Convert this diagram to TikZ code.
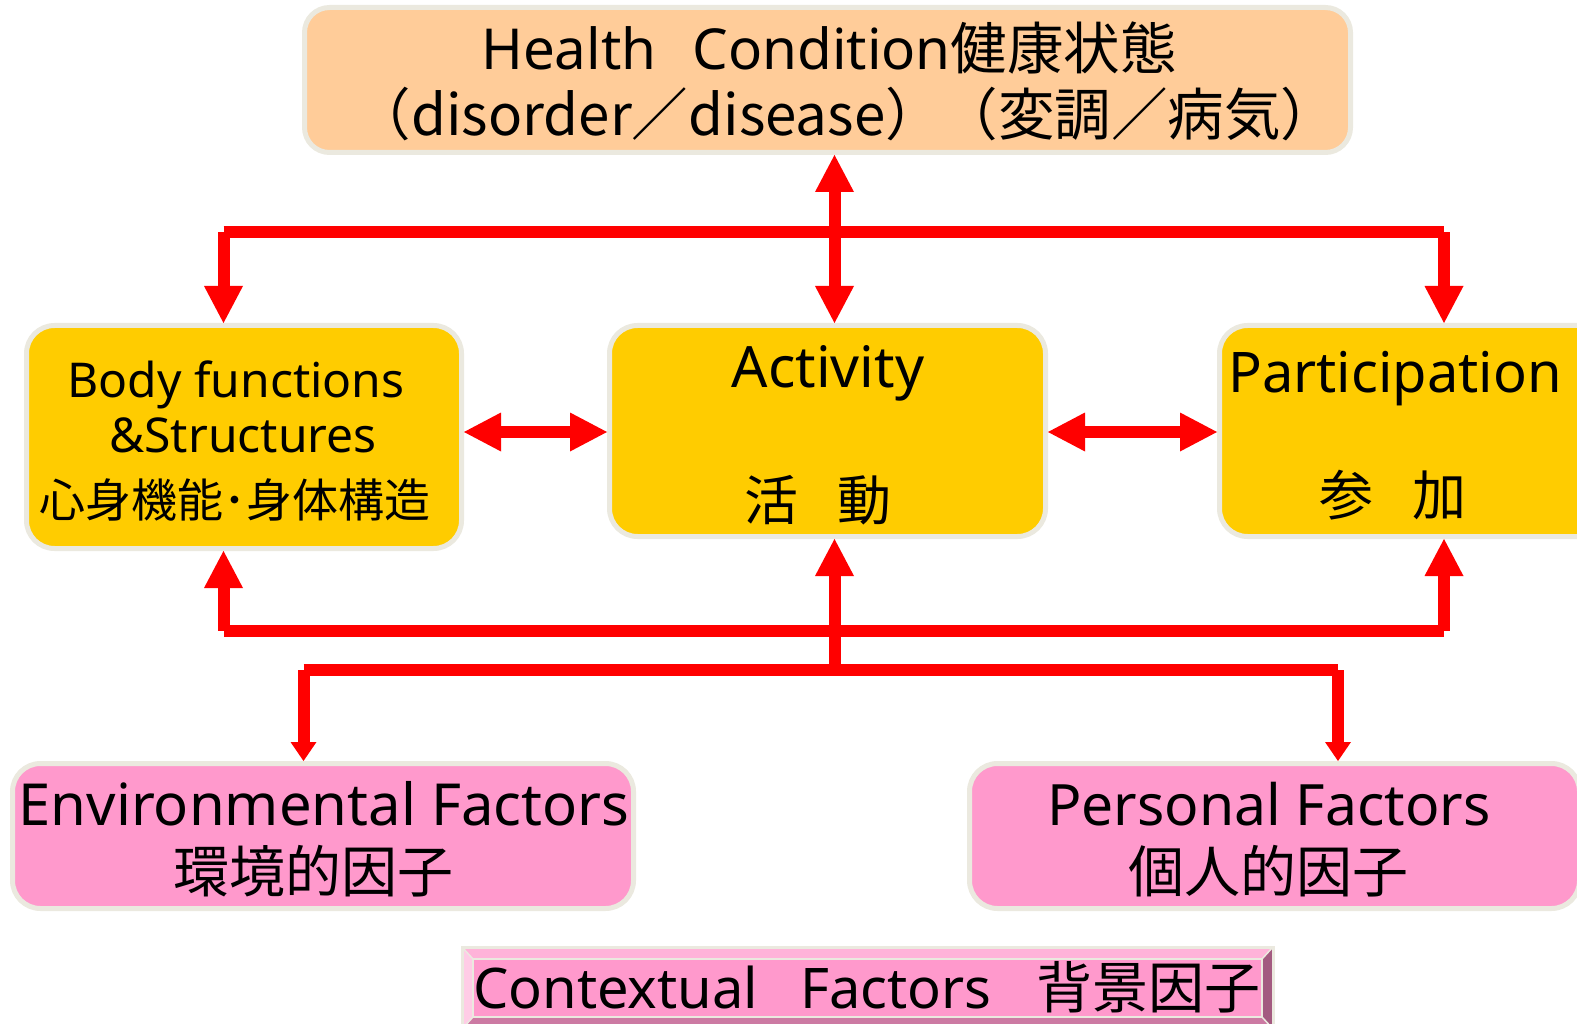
\documentclass[tikz,border=0pt]{standalone}
\usepackage{fontspec}
\setmainfont{Noto Sans}
\newfontfamily\jp{Noto Sans CJK JP}
\usetikzlibrary{arrows.meta}
\definecolor{hcfill}{HTML}{FFCC99}
\definecolor{yfill}{HTML}{FFCC00}
\definecolor{pfill}{HTML}{FF99CC}
\definecolor{bord}{HTML}{EBE9DF}
\definecolor{arrred}{HTML}{FF0000}
\definecolor{bvtop}{HTML}{FFB3D9}
\definecolor{bvleft}{HTML}{FFCCE6}
\definecolor{bvright}{HTML}{A35A80}
\definecolor{bvbot}{HTML}{CC7AA3}
\tikzset{
  bigtip/.tip={Triangle[length=37pt,width=39pt,line width=0pt]},
  smalltip/.tip={Triangle[length=19pt,width=26pt,line width=0pt]},
}
\newcommand{\fs}[1]{\fontsize{#1}{#1}\selectfont}
\begin{document}
\begin{tikzpicture}[x=1pt,y=-1pt,
  box/.style={draw=bord, line width=5pt, rounded corners=28pt, inner sep=0pt},
  conn/.style={draw=arrred, line width=12pt},
  lat/.style={anchor=base, inner sep=0pt, text=black},
  cjk/.style={anchor=center, inner sep=0pt, text=black},
]
\useasboundingbox (0,0) rectangle (1577,1024);

% ---------- boxes ----------
\node[box, fill=hcfill, rounded corners=25pt, minimum width=1046pt, minimum height=145pt] (hc) at (827.5,80) {};
\node[box, fill=yfill, minimum width=435pt, minimum height=223pt] (body) at (244,437) {};
\node[box, fill=yfill, minimum width=436pt, minimum height=211pt] (act) at (827.5,431) {};
\node[box, fill=yfill, minimum width=436pt, minimum height=211pt] (part) at (1437.5,431) {};
\node[box, fill=pfill, minimum width=621pt, minimum height=145pt] (env) at (323,836) {};
\node[box, fill=pfill, minimum width=610pt, minimum height=145pt] (pers) at (1274.5,836) {};

% contextual bevelled box
\node[draw=bord, line width=3pt, minimum width=808pt, minimum height=79pt, inner sep=0pt] (ctx) at (867.5,988) {};
\fill[pfill] (473,959) rectangle (1262,1017);
\fill[bvtop] (462,947) -- (1273,947) -- (1262,959) -- (473,959) -- cycle;
\fill[bvleft] (462,947) -- (473,959) -- (473,1017) -- (462,1029) -- cycle;
\fill[bvright] (1273,947) -- (1262,959) -- (1262,1017) -- (1273,1029) -- cycle;
\fill[bvbot] (473,1017) -- (1262,1017) -- (1273,1029) -- (462,1029) -- cycle;
\draw[bord, line width=2.5pt] (473,959) rectangle (1262,1017);
\draw[bord, line width=1.5pt] (462,947) -- (473,959) (1273,947) -- (1262,959)
  (462,1029) -- (473,1017) (1273,1029) -- (1262,1017);
\draw[bord, line width=3pt] (ctx.north west) rectangle (ctx.south east);

% ---------- connector coordinates ----------
\coordinate (lX) at (223.5,0);
\coordinate (cX) at (834.5,0);
\coordinate (rX) at (1444,0);
\coordinate (eX) at (303.5,0);
\coordinate (pX) at (1338,0);
\coordinate (busT) at (0,232.5);
\coordinate (busB) at (0,630.5);
\coordinate (busC) at (0,670);
\coordinate (hY) at (0,432);

% ---------- connectors ----------
\draw[conn, bigtip-bigtip] (hc.south -| cX) -- (act.north -| cX);
\draw[conn] (lX |- busT) -- (rX |- busT);
\draw[conn, -bigtip] (lX |- busT) -- (lX |- body.north);
\draw[conn, -bigtip] (rX |- busT) -- (rX |- part.north);

\draw[conn, bigtip-bigtip] (body.east |- hY) -- (act.west |- hY);
\draw[conn, bigtip-bigtip] (act.east |- hY) -- (part.west |- hY);

\draw[conn] (lX |- busB) -- (rX |- busB);
\draw[conn, -bigtip] (lX |- busB) -- (lX |- body.south);
\draw[conn, -bigtip] (rX |- busB) -- (rX |- part.south);
\draw[conn, -bigtip] (cX |- busC) -- (cX |- act.south);

\draw[conn] (eX |- busC) -- (pX |- busC);
\draw[conn, -smalltip] (eX |- busC) -- (eX |- env.north);
\draw[conn, -smalltip] (pX |- busC) -- (pX |- pers.north);

% ---------- texts ----------
\node[lat] (hcA) at (829,70) {\fs{56.5}Health\hspace{36pt}Condition\jp 健康状態};
\node[lat] (hcB) at (846,136) {\fs{56.5}\jp{（}disorder\jp{／}disease\jp{）（変調／病気）}};

\node[lat] (bodyA) at (236,397) {\fs{48}Body functions};
\node[lat] (bodyB) at (243,452) {\fs{48}\&Structures};
\node[cjk] (bodyC) at (235,500) {\fs{46}\jp 心身機能･身体構造};

\node[lat] (actA) at (828,387) {\fs{57}Activity};
\node[cjk] (actB) at (818,500) {\fs{54}\jp 活\hspace{40pt}動};

\node[lat] (partA) at (1395,392) {\fs{56}Participation};
\node[cjk] (partB) at (1393,495) {\fs{54}\jp 参\hspace{40pt}加};

\node[lat] (envA) at (324,825) {\fs{58}Environmental Factors};
\node[cjk] (envB) at (313,871) {\fs{56}\jp 環境的因子};

\node[lat] (persA) at (1269,825) {\fs{57}Personal Factors};
\node[cjk] (persB) at (1268,871) {\fs{56}\jp 個人的因子};

\node[lat] (ctxA) at (867,1008) {\fs{56}Contextual\hspace{42pt}Factors\hspace{45pt}{\jp 背景因子}};
\end{tikzpicture}
\end{document}
